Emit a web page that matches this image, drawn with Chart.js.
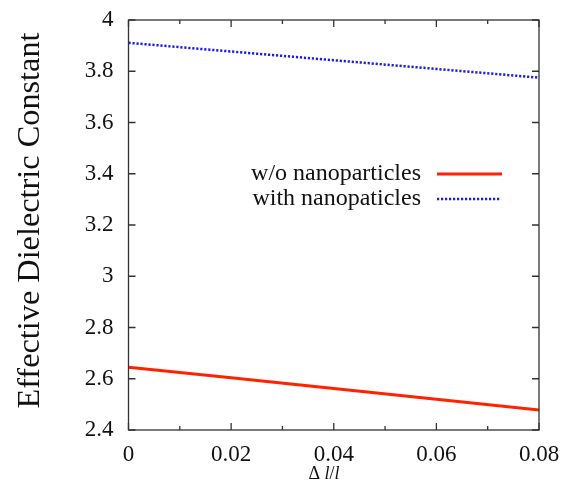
<!DOCTYPE html>
<html>
<head>
<meta charset="utf-8">
<script src="https://cdn.jsdelivr.net/npm/chart.js@4"></script>
<style>
  html, body { margin: 0; padding: 0; background: #fff; }
  #wrap { width: 570px; height: 490px; }
</style>
</head>
<body>
<div id="wrap"><canvas id="c" width="570" height="490"></canvas></div>
<script>
(function () {
  "use strict";

  var strainValues = [0, 0.02, 0.04, 0.06, 0.08];
  var withoutNano = [2.645, 2.604, 2.562, 2.520, 2.478];
  var withNano = [3.911, 3.877, 3.843, 3.809, 3.775];
  var xTicks = [0, 0.02, 0.04, 0.06, 0.08];
  var xMinorTicks = [0.01, 0.03, 0.05, 0.07];
  var yTicks = [2.4, 2.6, 2.8, 3, 3.2, 3.4, 3.6, 3.8, 4];
  var seriesNames = ["w/o nanoparticles", "with nanopaticles"];

  var serif = "'Liberation Serif', 'Times New Roman', serif";
  var red = "#ff2200";
  var blue = "#1c1ce8";

  function toPoints(xs, ys) {
    return xs.map(function (x, i) { return { x: x, y: ys[i] }; });
  }

  var framePlugin = {
    id: "frame",
    afterDatasetsDraw: function (chart) {
      var ctx = chart.ctx;
      var a = chart.chartArea;
      var xs = chart.scales.x;
      var ys = chart.scales.y;
      ctx.save();
      ctx.strokeStyle = "#333";
      ctx.lineWidth = 1.3;
      ctx.strokeRect(a.left, a.top, a.right - a.left, a.bottom - a.top);

      ctx.beginPath();
      xTicks.forEach(function (v) {
        var px = xs.getPixelForValue(v);
        ctx.moveTo(px, a.bottom); ctx.lineTo(px, a.bottom - 7);
        ctx.moveTo(px, a.top); ctx.lineTo(px, a.top + 7);
      });
      xMinorTicks.forEach(function (v) {
        var px = xs.getPixelForValue(v);
        ctx.moveTo(px, a.bottom); ctx.lineTo(px, a.bottom - 4);
        ctx.moveTo(px, a.top); ctx.lineTo(px, a.top + 4);
      });
      yTicks.forEach(function (v) {
        var py = ys.getPixelForValue(v);
        ctx.moveTo(a.left, py); ctx.lineTo(a.left + 7, py);
        ctx.moveTo(a.right, py); ctx.lineTo(a.right - 7, py);
      });
      ctx.stroke();

      // legend
      ctx.fillStyle = "#111";
      ctx.font = "24px " + serif;
      ctx.textAlign = "right";
      ctx.textBaseline = "middle";
      ctx.fillText(seriesNames[0], 421, 174);
      ctx.fillText(seriesNames[1], 421, 199);
      ctx.lineWidth = 3;
      ctx.strokeStyle = red;
      ctx.beginPath(); ctx.moveTo(437, 174); ctx.lineTo(502, 174); ctx.stroke();
      ctx.lineWidth = 2.5;
      ctx.strokeStyle = blue;
      ctx.setLineDash([2.2, 1.8]);
      ctx.beginPath(); ctx.moveTo(437, 199); ctx.lineTo(500, 199); ctx.stroke();
      ctx.setLineDash([]);

      // axis titles
      ctx.font = "32.3px " + serif;
      ctx.textAlign = "center";
      ctx.textBaseline = "alphabetic";
      ctx.save();
      ctx.translate(39, 220.5);
      ctx.rotate(-Math.PI / 2);
      ctx.fillText("Effective Dielectric Constant", 0, 0);
      ctx.restore();

      ctx.textAlign = "left";
      var parts = [["Δ ", "18px " + serif], ["l", "italic 18px " + serif], ["/", "18px " + serif], ["l", "italic 18px " + serif]];
      var total = 0;
      parts.forEach(function (p) { ctx.font = p[1]; total += ctx.measureText(p[0]).width; });
      var x0 = 324 - total / 2;
      parts.forEach(function (p) {
        ctx.font = p[1];
        ctx.fillText(p[0], x0, 479);
        x0 += ctx.measureText(p[0]).width;
      });
      ctx.restore();
    }
  };

  function build() {
    new Chart(document.getElementById("c"), {
      type: "line",
      data: {
        datasets: [
          {
            label: seriesNames[0],
            data: toPoints(strainValues, withoutNano),
            borderColor: red,
            borderWidth: 3,
            pointRadius: 0,
            tension: 0
          },
          {
            label: seriesNames[1],
            data: toPoints(strainValues, withNano),
            borderColor: blue,
            borderWidth: 2.5,
            borderDash: [2.2, 1.8],
            pointRadius: 0,
            tension: 0
          }
        ]
      },
      options: {
        responsive: false,
        animation: false,
        layout: { padding: { top: 20, right: 31, left: 0, bottom: 0 } },
        plugins: { legend: { display: false }, tooltip: { enabled: false } },
        scales: {
          x: {
            type: "linear",
            min: 0,
            max: 0.08,
            afterFit: function (s) {
              s.height = 60;
              s.paddingLeft = 0; s.paddingRight = 0;
            },
            afterBuildTicks: function (s) { s.ticks = xTicks.map(function (v) { return { value: v }; }); },
            grid: { display: false, drawTicks: false },
            border: { display: false },
            ticks: {
              color: "#111",
              padding: 11,
              font: { family: serif, size: 23 },
              maxRotation: 0,
              callback: function (v) { return String(v); }
            }
          },
          y: {
            type: "linear",
            min: 2.4,
            max: 4,
            afterFit: function (s) {
              s.width = 128.5;
              s.paddingTop = 0; s.paddingBottom = 0;
            },
            afterBuildTicks: function (s) { s.ticks = yTicks.map(function (v) { return { value: v }; }); },
            grid: { display: false, drawTicks: false },
            border: { display: false },
            ticks: {
              color: "#111",
              padding: 15,
              font: { family: serif, size: 23 },
              callback: function (v) { return String(Math.round(v * 10) / 10); }
            }
          }
        }
      },
      plugins: [framePlugin]
    });
  }

  if (document.fonts && document.fonts.load) {
    Promise.all([
      document.fonts.load("23px 'Liberation Serif'"),
      document.fonts.load("italic 18px 'Liberation Serif'")
    ]).then(build, build);
  } else {
    build();
  }
})();
</script>
</body>
</html>
